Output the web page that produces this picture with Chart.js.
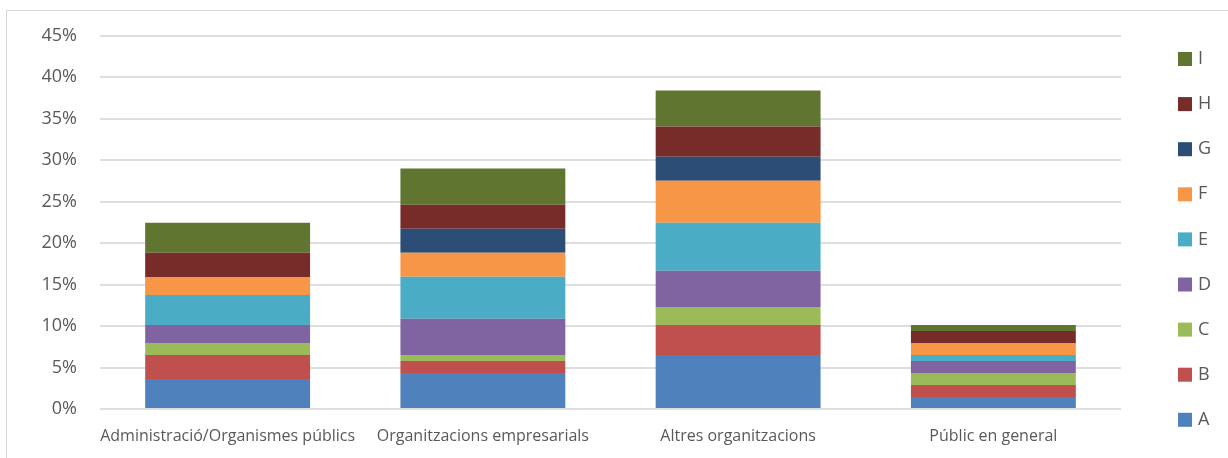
<!DOCTYPE html>
<html>
<head>
<meta charset="utf-8">
<script src="https://cdn.jsdelivr.net/npm/chart.js@4.4.0/dist/chart.umd.min.js"></script>
<style>
    body { margin: 0; background: #ffffff; overflow: hidden; }
    #marc { position: absolute; left: 6px; top: 10px; width: 1240px; height: 460px; border: 1px solid #d9d9d9; }
    #perfilChart { position: absolute; left: 7px; top: 2px; }
</style>
</head>
<body>
<div id="marc"></div>
<canvas id="perfilChart" width="1240" height="460"></canvas>
<script>
// Categories i sèries (percentatge sobre el total)
const categories = ['Administració/Organismes públics', 'Organitzacions empresarials', 'Altres organitzacions', 'Públic en general'];
const serieA = [3.62, 4.35, 6.52, 1.45];
const serieB = [2.90, 1.45, 3.62, 1.45];
const serieC = [1.45, 0.72, 2.17, 1.45];
const serieD = [2.17, 4.35, 4.35, 1.45];
const serieE = [3.62, 5.07, 5.80, 0.72];
const serieF = [2.17, 2.90, 5.07, 1.45];
const serieG = [0, 2.90, 2.90, 0];
const serieH = [2.90, 2.90, 3.62, 1.45];
const serieI = [3.62, 4.35, 4.35, 0.72];
const nomsSeries = ['A', 'B', 'C', 'D', 'E', 'F', 'G', 'H', 'I'];
const tickValors = [0, 5, 10, 15, 20, 25, 30, 35, 40, 45];

const colors = ['#4f81bd', '#c0504d', '#9bbb59', '#8064a2', '#4bacc6', '#f79646', '#2c4d75', '#772c2a', '#5f7530'];
const dades = [serieA, serieB, serieC, serieD, serieE, serieF, serieG, serieH, serieI];
const textColor = '#595959';

// Llegenda a la dreta, en ordre invers (I dalt, A baix)
const llegendaDreta = {
    id: 'llegendaDreta',
    afterDraw(chart) {
        const ctx = chart.ctx;
        const sets = chart.data.datasets;
        ctx.save();
        ctx.font = '18px "Open Sans"';
        ctx.textBaseline = 'middle';
        for (let k = 0; k < sets.length; k++) {
            const ds = sets[sets.length - 1 - k];
            const y = 50 + k * 45.1;
            ctx.fillStyle = ds.backgroundColor;
            ctx.fillRect(1171, y, 14, 14);
            ctx.fillStyle = textColor;
            ctx.fillText(ds.label, 1191, y + 7);
        }
        ctx.restore();
    }
};

const ctx = document.getElementById('perfilChart');
new Chart(ctx.getContext('2d'), {
    type: 'bar',
    data: {
        labels: categories,
        datasets: nomsSeries.map((nom, i) => ({
            label: nom,
            data: dades[i],
            backgroundColor: colors[i],
            borderWidth: 0,
            categoryPercentage: 1,
            barPercentage: 0.646
        }))
    },
    options: {
        responsive: false,
        animation: false,
        layout: { padding: { left: 0, right: 126, top: 0, bottom: 13 } },
        plugins: {
            legend: { display: false },
            tooltip: { enabled: false }
        },
        scales: {
            x: {
                stacked: true,
                grid: { display: false },
                border: { display: false },
                ticks: {
                    color: textColor,
                    font: { family: 'Open Sans', size: 16 },
                    padding: 10,
                    maxRotation: 0,
                    autoSkip: false
                },
                afterFit: function (scale) { scale.height = 40; }
            },
            y: {
                stacked: true,
                min: 0,
                max: 45,
                afterBuildTicks: function (scale) {
                    scale.ticks = tickValors.map(v => ({ value: v }));
                },
                grid: { color: '#dedede', lineWidth: 2, drawTicks: false },
                border: { display: false },
                ticks: {
                    color: textColor,
                    font: { family: 'Open Sans', size: 18 },
                    padding: 23,
                    callback: function (value) { return value + '%'; }
                },
                afterFit: function (scale) { scale.width = 93; }
            }
        }
    },
    plugins: [llegendaDreta]
});
</script>
</body>
</html>
